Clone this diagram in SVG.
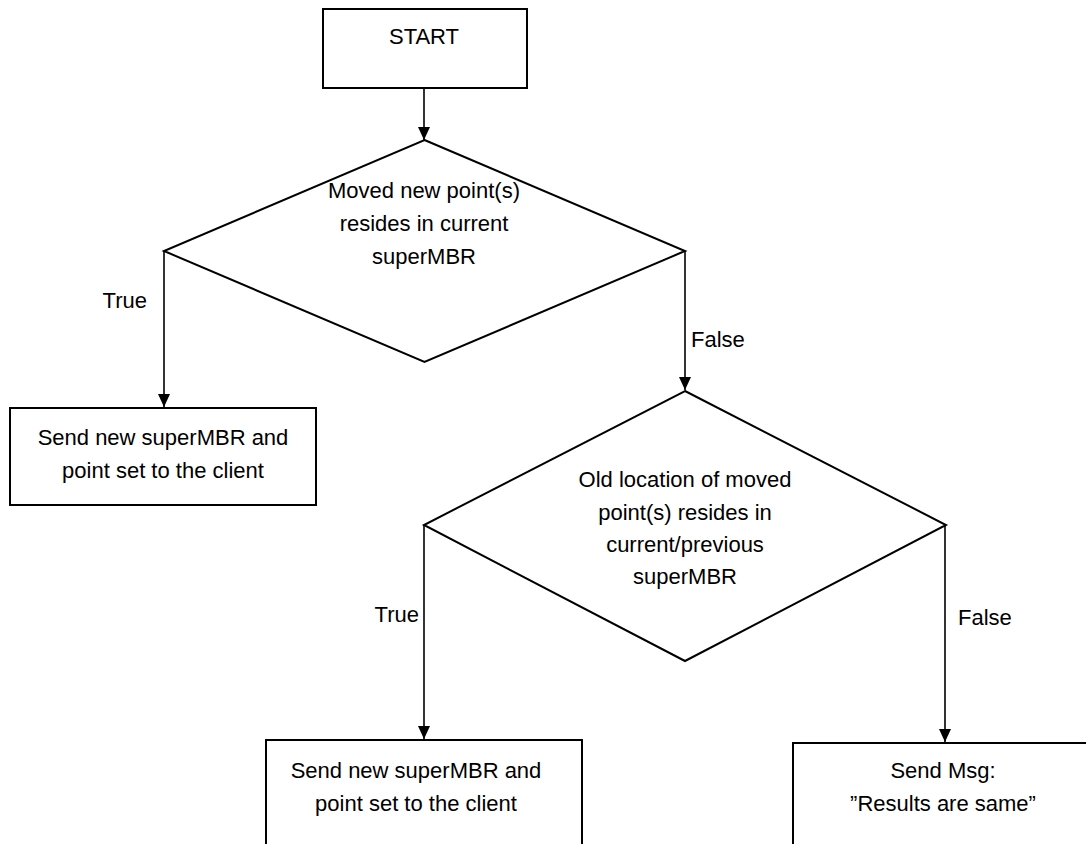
<svg xmlns="http://www.w3.org/2000/svg" width="1086" height="844" viewBox="0 0 1086 844">
<style>
.shape{fill:#fff;stroke:#000;stroke-width:2}
.conn{stroke:#000;stroke-width:1.6;fill:none}
text{font-family:"Liberation Sans",Arial,sans-serif;font-size:22px;fill:#000}
.c{text-anchor:middle}
.e{text-anchor:end}
</style>
<defs>
<marker id="arr" markerWidth="13" markerHeight="13" viewBox="0 0 13 12" refX="13" refY="6" orient="auto" markerUnits="userSpaceOnUse">
<path d="M0,0 L13,6 L0,12 Z" fill="#000"/>
</marker>
</defs>
<rect width="1086" height="844" fill="#fff"/>
<g id="connectors">
<line class="conn" x1="424" y1="88" x2="424" y2="140" marker-end="url(#arr)"/>
<line class="conn" x1="164" y1="251" x2="164" y2="407" marker-end="url(#arr)"/>
<line class="conn" x1="685" y1="251" x2="685" y2="390" marker-end="url(#arr)"/>
<line class="conn" x1="424" y1="525" x2="424" y2="739" marker-end="url(#arr)"/>
<line class="conn" x1="945" y1="525" x2="945" y2="742" marker-end="url(#arr)"/>
<text class="e" x="147" y="308">True</text>
<text x="691" y="347">False</text>
<text class="e" x="419" y="622">True</text>
<text x="958" y="625">False</text>
</g>
<g id="start">
<rect class="shape" x="323" y="9" width="204" height="79"/>
<text class="c" x="424" y="44">START</text>
</g>
<g id="decision1">
<polygon class="shape" points="424.5,140 685,251 424.5,362 164,251"/>
<text class="c" x="424" y="198">Moved new point(s)</text>
<text class="c" x="424" y="231">resides in current</text>
<text class="c" x="424" y="264">superMBR</text>
</g>
<g id="send1">
<rect class="shape" x="10" y="408" width="306" height="97"/>
<text class="c" x="163" y="445">Send new superMBR and</text>
<text class="c" x="163" y="478">point set to the client</text>
</g>
<g id="decision2">
<polygon class="shape" points="685,391 946,525 685,661 424,525"/>
<text class="c" x="685" y="487">Old location of moved</text>
<text class="c" x="685" y="520">point(s) resides in</text>
<text class="c" x="685" y="552">current/previous</text>
<text class="c" x="685" y="584">superMBR</text>
</g>
<g id="send2">
<rect class="shape" x="266" y="740" width="316" height="110"/>
<text class="c" x="416" y="778">Send new superMBR and</text>
<text class="c" x="416" y="811">point set to the client</text>
</g>
<g id="sendmsg">
<rect class="shape" x="793" y="743" width="310" height="110"/>
<text class="c" x="943" y="778">Send Msg:</text>
<text class="c" x="943" y="811">”Results are same”</text>
</g>
</svg>
